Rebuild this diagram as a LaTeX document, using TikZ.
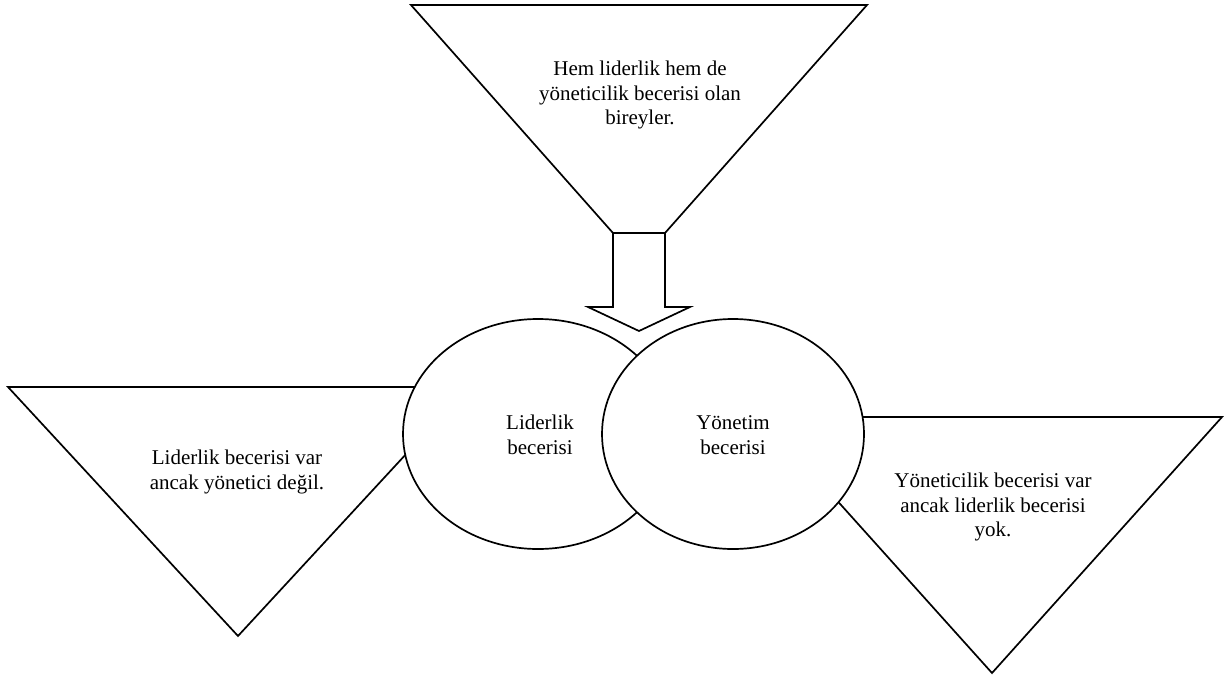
\documentclass[tikz,border=0pt]{standalone}
\usepackage{fontspec}
\setmainfont{Liberation Serif}
\begin{document}
\begin{tikzpicture}[x=1pt,y=-1pt,
  shape line/.style={draw=black,line width=1.7pt,line join=miter,fill=white},
  label text/.style={align=center,font=\fontsize{21}{24.5}\selectfont,inner sep=0pt}]
\useasboundingbox (0,0) rectangle (1226,675);
% left triangle
\draw[shape line] (8,387) -- (468,387) -- (238,636) -- cycle;
% right triangle
\draw[shape line] (762,417) -- (1222,417) -- (992,673) -- cycle;
% ellipses
\draw[shape line] (538,434) ellipse [x radius=135, y radius=115];
\draw[shape line] (733,434) ellipse [x radius=131, y radius=115];
% funnel
\draw[shape line] (411,5) -- (867,5) -- (665,233) -- (613,233) -- cycle;
% block arrow
\draw[shape line] (613,233) -- (665,233) -- (665,307) -- (690,307) -- (639,331) -- (588,307) -- (613,307) -- cycle;
% texts
\node[label text] (top) at (640,95) {Hem liderlik hem de\\yöneticilik becerisi olan\\bireyler.};
\node[label text] (left) at (237,472) {Liderlik becerisi var\\ancak yönetici değil.};
\node[label text] (right) at (993,507) {Yöneticilik becerisi var\\ancak liderlik becerisi\\yok.};
\node[label text] (lid) at (540,435) {Liderlik\\becerisi};
\node[label text] (yon) at (733,435) {Yönetim\\becerisi};
\end{tikzpicture}
\end{document}
